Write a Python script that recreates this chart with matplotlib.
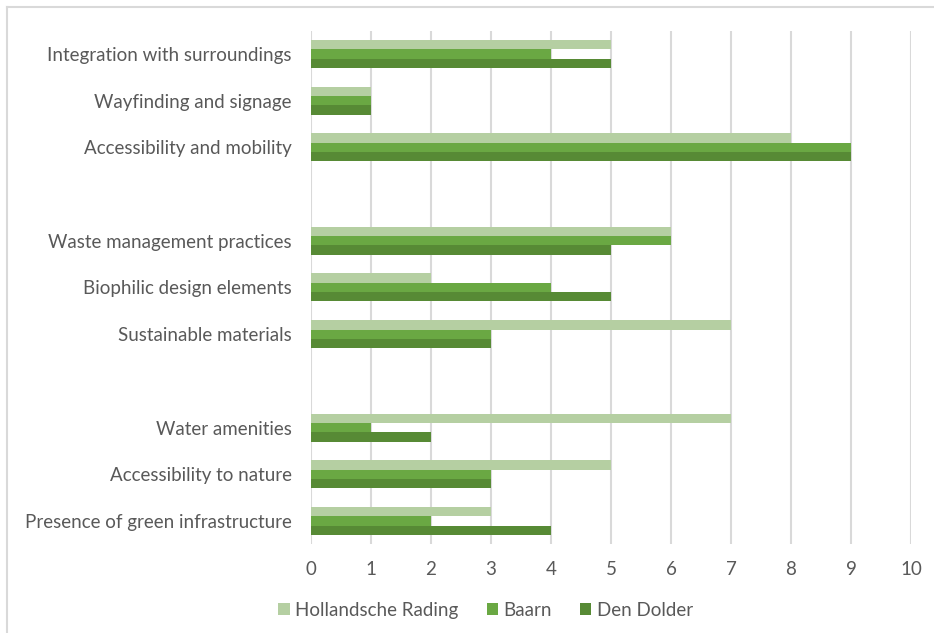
import numpy as np
import matplotlib.pyplot as plt
from matplotlib.lines import Line2D

plt.rcParams['font.family'] = ['Lato', 'DejaVu Sans']

# top to bottom, empty strings are gaps between the groups
categories = ['Integration with surroundings', 'Wayfinding and signage',
              'Accessibility and mobility', '',
              'Waste management practices', 'Biophilic design elements',
              'Sustainable materials', '',
              'Water amenities', 'Accessibility to nature',
              'Presence of green infrastructure']

hollandsche_rading = [5, 1, 8, None, 6, 2, 7, None, 7, 5, 3]
baarn = [4, 1, 9, None, 6, 4, 3, None, 1, 3, 2]
den_dolder = [5, 1, 9, None, 5, 5, 3, None, 2, 3, 4]

series = ['Hollandsche Rading', 'Baarn', 'Den Dolder']
colors = ['#b5cfa2', '#6aa843', '#578a35']
text_color = '#595959'

fig = plt.figure(figsize=(9.34, 6.33), dpi=100)
ax = fig.add_axes([0.333, 0.14, 0.6424, 0.8117])

n = len(categories)
y = np.arange(n)[::-1].astype(float)
h = 0.2

for i, (vals, name, c) in enumerate(zip([hollandsche_rading, baarn, den_dolder], series, colors)):
    v = [0 if x is None else x for x in vals]
    ax.barh(y + h - i * h, v, height=h, color=c, label=name, zorder=2)

ax.set_xlim(0, 10)
ax.set_ylim(-0.5, n - 0.5)
ax.set_xticks(range(11))
ax.set_yticks(y)
ax.set_yticklabels(categories)
for x in range(11):
    ax.axvline(x, color='#d9d9d9', lw=1.5, zorder=1)

for s in ax.spines.values():
    s.set_visible(False)
ax.tick_params(axis='both', length=0, labelsize=13.5, colors=text_color)
ax.tick_params(axis='y', pad=14)
ax.tick_params(axis='x', pad=12)

fig.legend(*ax.get_legend_handles_labels(), loc='center', bbox_to_anchor=(0.52, 0.036),
           ncol=3, frameon=False, fontsize=13.5, labelcolor=text_color,
           handlelength=0.6, handleheight=0.6, handletextpad=0.3, columnspacing=1.5)

# light frame at top and left edge
fig.add_artist(Line2D([7 / 934, 7 / 934], [0, 1 - 7 / 633], color='#d9d9d9', lw=1.5))
fig.add_artist(Line2D([7 / 934, 1], [1 - 7 / 633, 1 - 7 / 633], color='#d9d9d9', lw=1.5))

plt.savefig('out.png', dpi=100)
